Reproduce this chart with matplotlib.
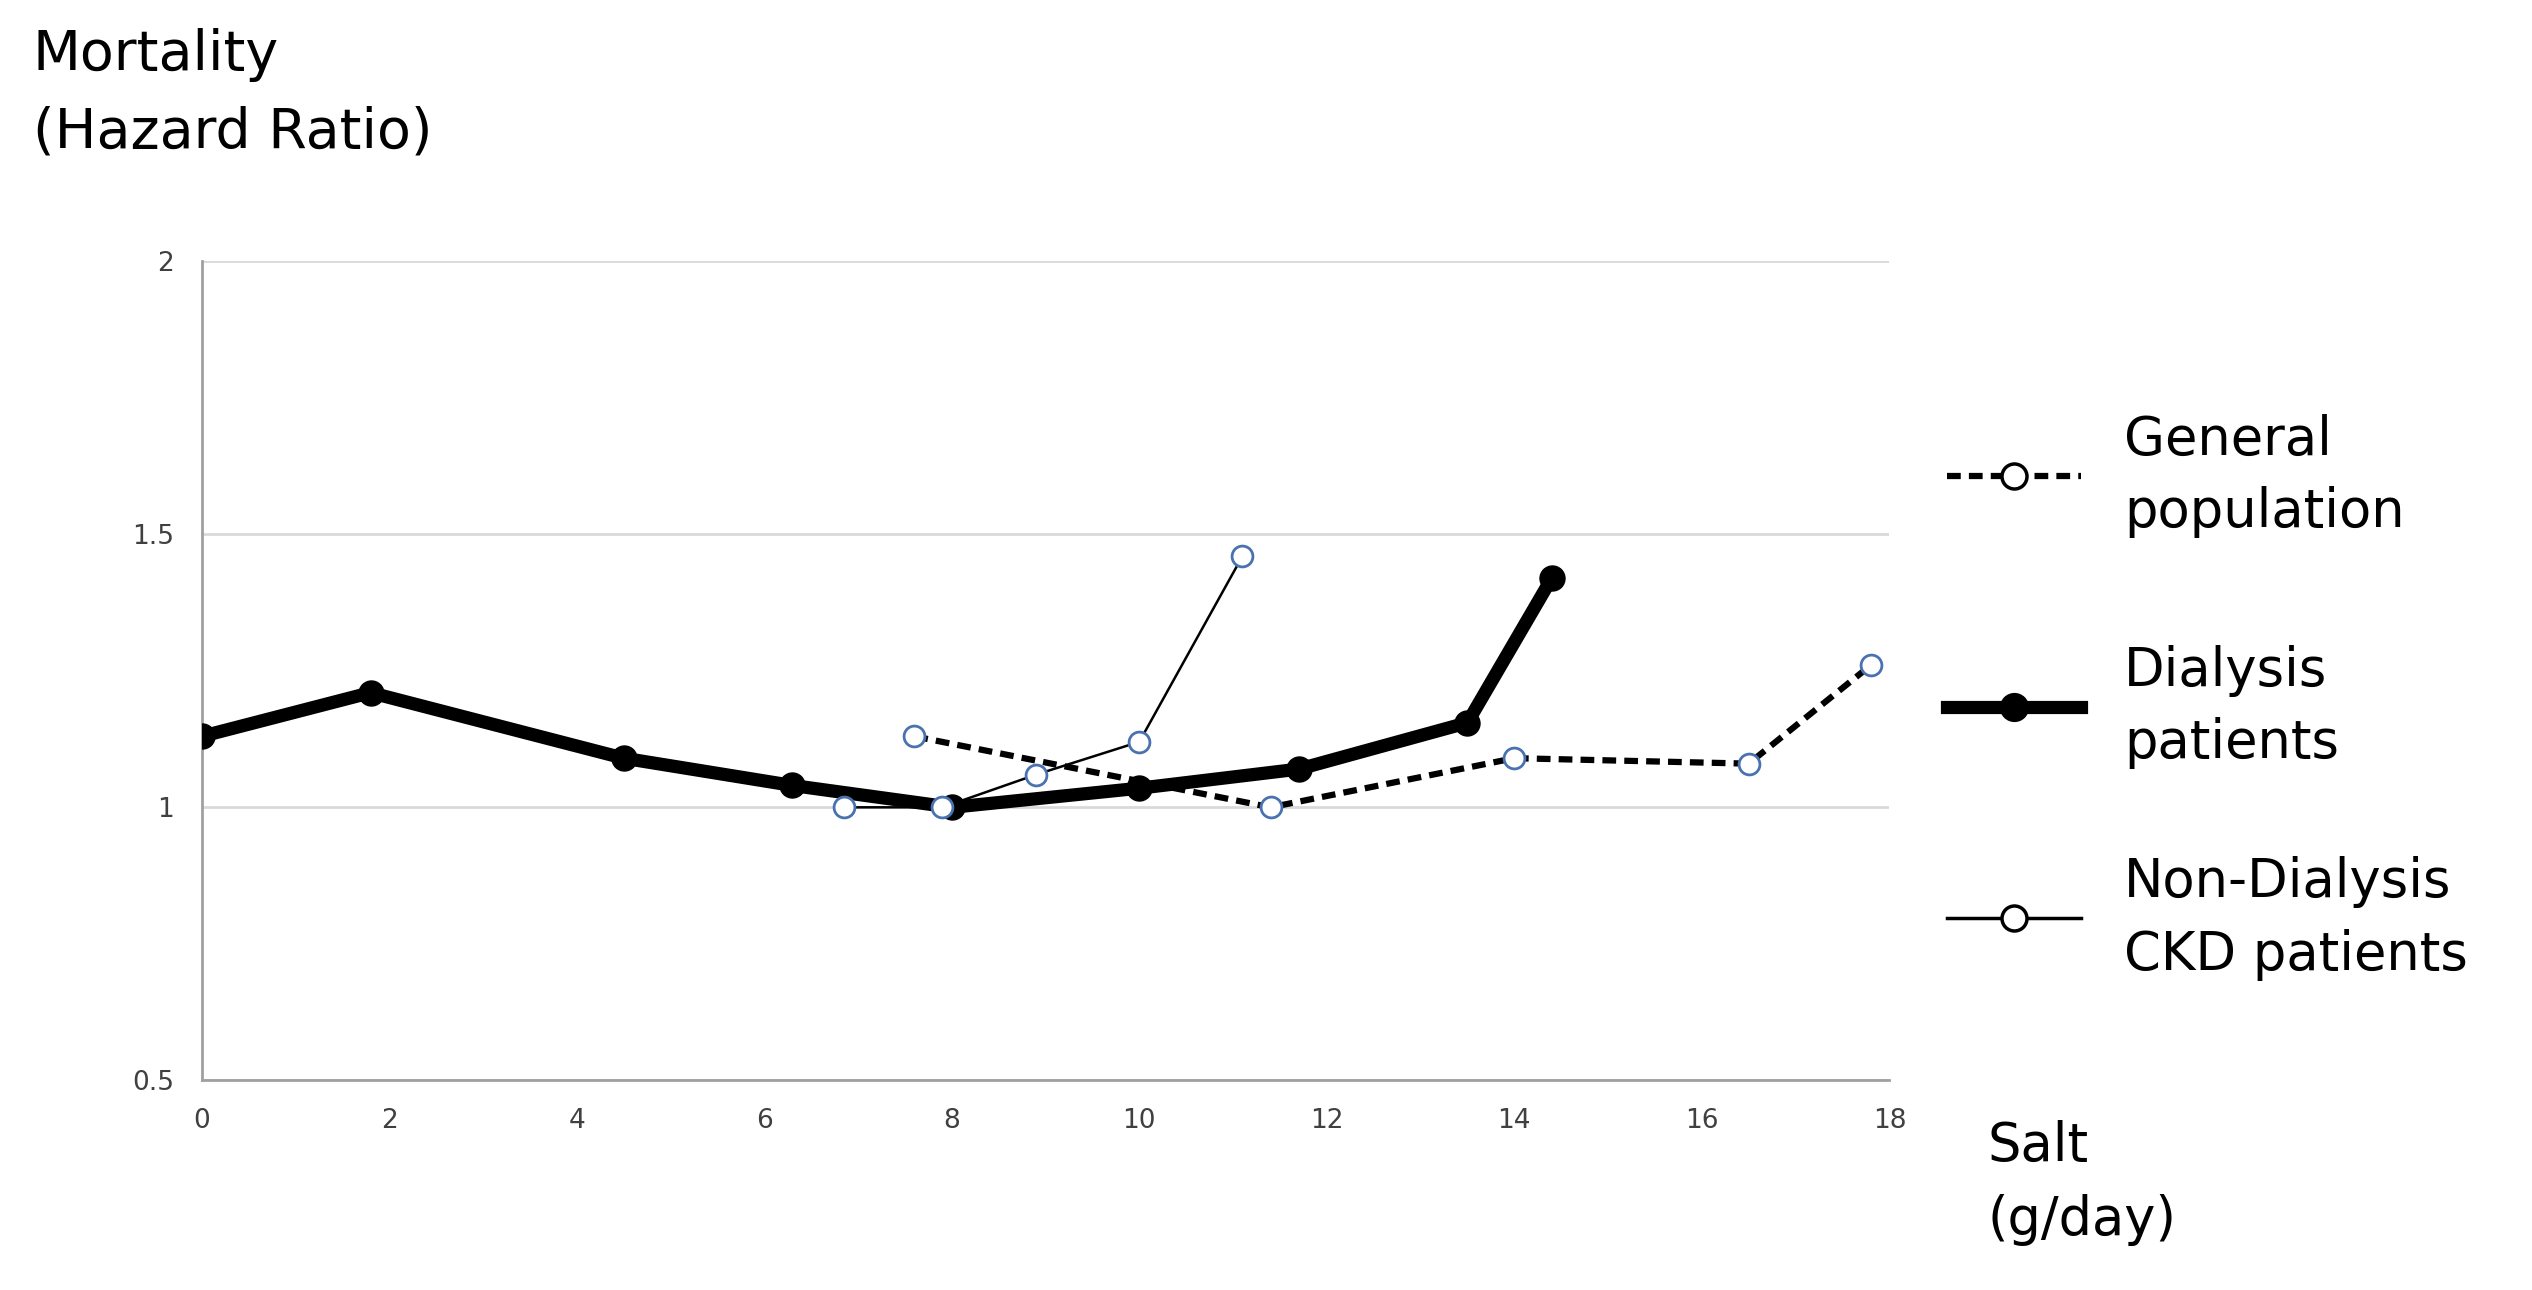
import matplotlib
matplotlib.use("Agg")
import matplotlib.pyplot as plt
from matplotlib.lines import Line2D

dial_x = [0, 1.8, 4.5, 6.3, 8.0, 10.0, 11.7, 13.5, 14.4]
dial_y = [1.13, 1.21, 1.09, 1.04, 1.00, 1.035, 1.07, 1.155, 1.42]
gen_x = [7.6, 11.4, 14.0, 16.5, 17.8]
gen_y = [1.13, 1.00, 1.09, 1.08, 1.26]
ckd_x = [6.85, 7.9, 8.9, 10.0, 11.1]
ckd_y = [1.00, 1.00, 1.06, 1.12, 1.46]
xticks = [0, 2, 4, 6, 8, 10, 12, 14, 16, 18]
yticks = [0.5, 1, 1.5, 2]
ytick_labels = ["0.5", "1", "1.5", "2"]

fig = plt.figure(figsize=(25.32, 12.9), dpi=100)
ax = fig.add_axes([0.0797, 0.1625, 0.6665, 0.635])
ax.set_xlim(0, 18)
ax.set_ylim(0.5, 2)
ax.set_xticks(xticks)
ax.set_yticks(yticks)
ax.set_yticklabels(ytick_labels)
ax.tick_params(length=0, labelsize=19, colors="#404040", pad=20)
for s in ["top", "right"]:
    ax.spines[s].set_visible(False)
for s in ["left", "bottom"]:
    ax.spines[s].set_color("#a0a0a0")
    ax.spines[s].set_linewidth(2)
ax.grid(axis="y", color="#d9d9d9", linewidth=2)
ax.set_axisbelow(True)

blue = "#4a72b0"
ax.plot(gen_x, gen_y, color="black", lw=4.5, ls=(0, (2.2, 1.3)),
        marker="o", ms=15, mfc="white", mec=blue, mew=2, zorder=3)
ax.plot(dial_x, dial_y, color="black", lw=9.5, marker="o", ms=18,
        mfc="black", mec="black", zorder=4)
ax.plot(ckd_x, ckd_y, color="black", lw=1.8, marker="o", ms=15,
        mfc="white", mec=blue, mew=2, zorder=5)

fig.text(0.013, 0.978, "Mortality\n(Hazard Ratio)", fontsize=40, va="top",
         ha="left", linespacing=1.55)
fig.text(0.785, 0.132, "Salt\n(g/day)", fontsize=38, va="top", ha="left",
         linespacing=1.55)

legend_items = [
    ("General\npopulation", dict(lw=4.5, ls=(0, (2.2, 1.3)), ms=18, mfc="white", mec="black", mew=2.5), 0.631),
    ("Dialysis\npatients", dict(lw=9.5, ms=20, mfc="black", mec="black"), 0.452),
    ("Non-Dialysis\nCKD patients", dict(lw=2.5, ms=18, mfc="white", mec="black", mew=2.5), 0.288),
]
for label, kw, yy in legend_items:
    fig.add_artist(Line2D([0.769, 0.822], [yy, yy], color="black",
                          transform=fig.transFigure, **{k: v for k, v in kw.items() if k not in ("ms", "mfc", "mec", "mew")}))
    fig.add_artist(Line2D([0.7955], [yy], color="black", marker="o",
                          transform=fig.transFigure, ms=kw["ms"], mfc=kw["mfc"],
                          mec=kw["mec"], mew=kw.get("mew", 1), lw=0))
    fig.text(0.839, yy, label, fontsize=38, va="center", ha="left", linespacing=1.5)

fig.savefig("out.png", dpi=100)
